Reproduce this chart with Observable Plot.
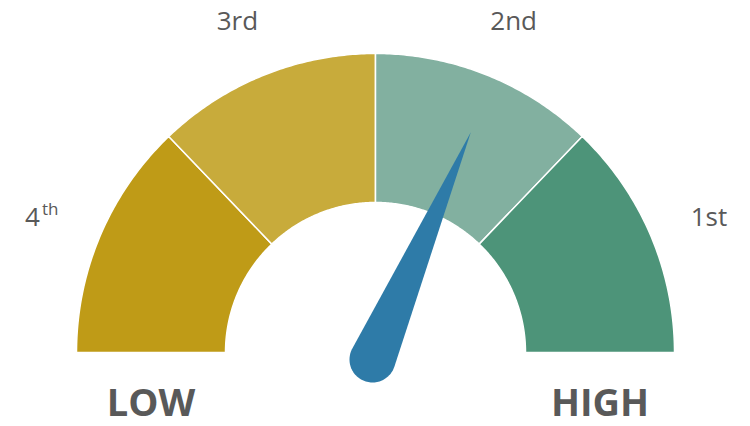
<!DOCTYPE html>
<html>
<head>
<meta charset="utf-8">
<script src="https://cdn.jsdelivr.net/npm/d3@7"></script>
<script src="https://cdn.jsdelivr.net/npm/@observablehq/plot@0.6"></script>
<style>
  html, body { margin: 0; padding: 0; background: #fff; }
  svg { display: block; overflow: visible; }
</style>
</head>
<body>
<div id="chart"></div>
<script>
// ---- data ----
const categories = ["4th", "3rd", "2nd", "1st"];
const labelNumbers = ["4", "3", "2", "1"];
const labelSuffixes = ["th", "rd", "nd", "st"];
const bounds = [0, 0.257, 0.5, 0.743, 1];   // fraction of the gauge sweep (left → right)
const needleValue = 0.63;                    // fraction of the gauge sweep
const endLabels = ["LOW", "HIGH"];

// ---- geometry (style) ----
const rOut = 299, rIn = 150, rLabel = 361;
const needleLen = 240, needleBaseR = 23, needleBase = [-3, -7];
const ang = f => Math.PI * (1 - f);

// segment polygons
const segPts = [];
categories.forEach((c, i) => {
  const f0 = bounds[i], f1 = bounds[i + 1], n = 80;
  const pts = [];
  for (let k = 0; k <= n; k++) { const a = ang(f0 + (f1 - f0) * k / n); pts.push([rOut * Math.cos(a), rOut * Math.sin(a)]); }
  for (let k = n; k >= 0; k--) { const a = ang(f0 + (f1 - f0) * k / n); pts.push([rIn * Math.cos(a), rIn * Math.sin(a)]); }
  pts.push(pts[0]);
  pts.forEach(p => segPts.push({cat: c, x: p[0], y: p[1]}));
});

// needle polygon
const a = ang(needleValue);
const tip = [needleLen * Math.cos(a), needleLen * Math.sin(a)];
const dx = tip[0] - needleBase[0], dy = tip[1] - needleBase[1];
const L = Math.hypot(dx, dy), td = Math.atan2(dy, dx), beta = Math.acos(needleBaseR / L);
const needlePts = [{x: tip[0], y: tip[1]}];
for (let k = 0; k <= 60; k++) {
  const t = td + beta + (2 * Math.PI - 2 * beta) * k / 60;
  needlePts.push({x: needleBase[0] + needleBaseR * Math.cos(t), y: needleBase[1] + needleBaseR * Math.sin(t)});
}
needlePts.push({x: tip[0], y: tip[1]});

// labels (placed at the middle of each quarter of the sweep)
const labels = categories.map((c, i) => {
  const m = ang((i + 0.5) / categories.length);
  return {cat: c, num: labelNumbers[i], suf: labelSuffixes[i], sup: c === "4th",
          x: rLabel * Math.cos(m), y: rLabel * Math.sin(m) - 3};
});
const ends = endLabels.map((t, i) => ({t, x: (i === 0 ? -1 : 1) * (rOut + rIn) / 2, y: -51}));

const txt = "#595959";
const font = "'Open Sans', 'Noto Sans', sans-serif";

const chart = Plot.plot({
  width: 750, height: 426, margin: 0,
  style: {fontFamily: font, background: "#fff", overflow: "visible"},
  x: {domain: [-375, 375], axis: null},
  y: {domain: [-74, 352], axis: null},
  color: {domain: categories, range: ["#BF9B17", "#C8AB3B", "#82B0A0", "#4D9479"]},
  marks: [
    Plot.line(segPts, {x: "x", y: "y", z: "cat", fill: "cat", stroke: "white", strokeWidth: 1.5, curve: "linear"}),
    Plot.line(needlePts, {x: "x", y: "y", fill: "#2E7BA8", stroke: "none"}),
    Plot.text(labels.filter(d => !d.sup), {x: "x", y: "y", text: d => d.num + d.suf, fill: txt, fontSize: 26, textAnchor: "middle", lineAnchor: "middle"}),
    Plot.text(labels.filter(d => d.sup), {x: "x", y: "y", text: "num", fill: txt, fontSize: 26, textAnchor: "end", lineAnchor: "middle", dx: -2}),
    Plot.text(labels.filter(d => d.sup), {x: "x", y: "y", text: "suf", fill: txt, fontSize: 17, textAnchor: "start", lineAnchor: "middle", dx: 0, dy: -8}),
    Plot.text(ends, {x: "x", y: "y", text: "t", fill: txt, fontSize: 38, fontWeight: "bold", textAnchor: "middle", lineAnchor: "middle"})
  ]
});
document.getElementById("chart").appendChild(chart);
</script>
</body>
</html>
